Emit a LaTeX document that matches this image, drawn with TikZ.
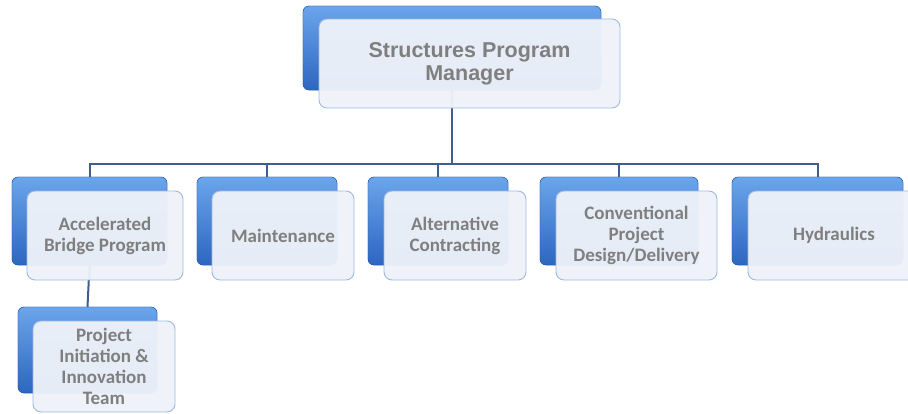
\documentclass[tikz,border=0pt]{standalone}
\usepackage{fontspec}
\setmainfont{Carlito}
\newfontfamily\arialfont{Liberation Sans}
\definecolor{txtgray}{HTML}{7F7F7F}
\definecolor{linecol}{HTML}{3F5E8C}
\definecolor{bluetop}{HTML}{6BA5EC}
\definecolor{bluemid}{HTML}{3F7FD8}
\definecolor{bluebot}{HTML}{2C66C0}
\definecolor{frontfill}{HTML}{EEF2F9}
\definecolor{frontdraw}{HTML}{9DB8E2}
\begin{document}
\begin{tikzpicture}[x=1pt,y=1pt,
  bluebox/.style={rectangle, rounded corners=6pt, top color=bluetop, middle color=bluemid, bottom color=bluebot, draw=bluebot!85!black, line width=0.4pt, inner sep=0pt},
  frontbox/.style={rectangle, rounded corners=8pt, fill=frontfill, fill opacity=0.96, text opacity=1, draw=frontdraw, line width=0.9pt, inner sep=2pt, align=center, text=txtgray, font=\bfseries\fontsize{19}{21}\selectfont},
  topfront/.style={frontbox, font=\arialfont\bfseries\fontsize{21.5}{23}\selectfont},
  conn/.style={draw=linecol, line width=2pt}
]
\useasboundingbox (0,0) rectangle (908,-413);
% blue back boxes
\node[bluebox, minimum width=298pt, minimum height=84pt] (topb) at (452,-48) {};
\node[bluebox, minimum width=155pt, minimum height=88pt] (accb) at (89.5,-221) {};
\node[bluebox, minimum width=140pt, minimum height=88pt] (maintb) at (267,-221) {};
\node[bluebox, minimum width=140pt, minimum height=88pt] (altb) at (438,-221) {};
\node[bluebox, minimum width=158pt, minimum height=88pt] (convb) at (619,-221) {};
\node[bluebox, minimum width=171pt, minimum height=88pt] (hydb) at (817.5,-221) {};
\node[bluebox, minimum width=139pt, minimum height=86pt] (projb) at (87.5,-350) {};
% connectors
\coordinate (bus) at (0,-164);
\draw[conn] (topb.center) -- (topb.center |- bus);
\draw[conn] (accb.north) -- (accb.north |- bus) -| (hydb.north);
\draw[conn] (maintb.north) -- (maintb.north |- bus);
\draw[conn] (altb.north) -- (altb.north |- bus);
\draw[conn] (convb.north) -- (convb.north |- bus);
\draw[conn] (accb.south) -- (projb.north);
% redraw blue boxes over line ends
\node[bluebox, minimum width=298pt, minimum height=84pt] at (452,-48) {};
\foreach \p/\w in {{(89.5,-221)}/155, {(267,-221)}/140, {(438,-221)}/140, {(619,-221)}/158, {(817.5,-221)}/171}
  \node[bluebox, minimum width=\w pt, minimum height=88pt] at \p {};
\node[bluebox, minimum width=139pt, minimum height=86pt] at (87.5,-350) {};
% line segments visible below blue boxes, under the front boxes
\draw[conn] (topb.center |- 0,-90) -- (topb.center |- 0,-108);
\draw[conn] (accb.south |- 0,-265) -- (accb.south |- 0,-280);
% front boxes
\node[topfront, minimum width=301pt, minimum height=89pt] (top) at (469.5,-63.5) {Structures Program\\Manager};
\node[frontbox, minimum width=156pt, minimum height=89pt] (acc) at (105,-235.5) {Accelerated\\Bridge Program};
\node[frontbox, minimum width=142pt, minimum height=89pt] (maint) at (283,-235.5) {Maintenance};
\node[frontbox, minimum width=142pt, minimum height=89pt] (alt) at (455,-235.5) {Alternative\\Contracting};
\node[frontbox, minimum width=161pt, minimum height=89pt] (conv) at (636.5,-235.5) {Conventional\\Project\\Design/Delivery};
\node[frontbox, minimum width=172pt, minimum height=89pt] (hyd) at (834,-235.5) {Hydraulics};
\node[frontbox, minimum width=142pt, minimum height=91pt] (proj) at (104,-366.5) {Project\\Initiation \&\\Innovation\\Team};
\end{tikzpicture}
\end{document}
